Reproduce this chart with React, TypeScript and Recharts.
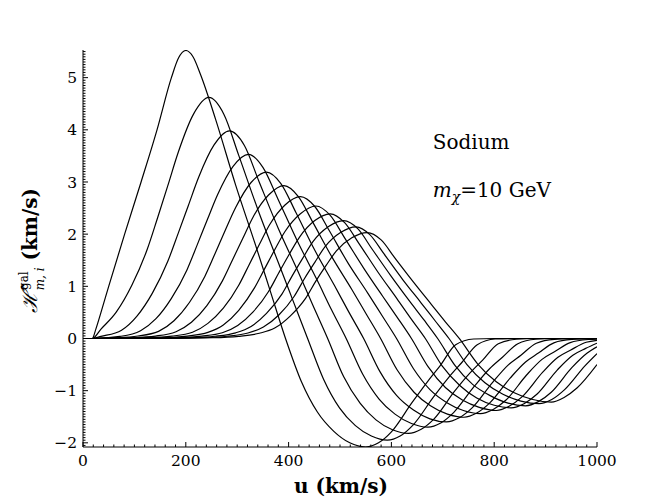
import React from "react";
import { LineChart, Line, XAxis, YAxis } from "recharts";

// Curves: [u (km/s), H (km/s)]
const curve01 = [
  [0, 0], [18, 0], [25, 0.18], [35, 0.5], [50, 1.0], [81, 2.0], [113, 3.0], [144, 4.0], [172, 5.0], [186, 5.38], [200, 5.52],
  [214, 5.4], [229, 5.05], [258, 4.2], [297, 2.94], [336, 1.78], [365, 0.89], [394, 0],
  [425, -0.83], [456, -1.41], [488, -1.78], [519, -2.0], [550, -2.08],
  [575, -2.0], [600, -1.79], [640, -1.23], [670, -0.83], [695, -0.52], [725, -0.12], [760, -0.01], [800, 0], [1000, 0],
];
const curve02 = [
  [0, 0], [18, 0], [35, 0.18], [65, 0.51], [95, 1.02], [125, 1.71], [145, 2.31], [165, 2.93], [185, 3.56], [215, 4.3], [245, 4.62],
  [274, 4.3], [303, 3.51], [341, 2.45], [379, 1.48], [408, 0.74], [437, 0],
  [468, -0.78], [499, -1.33], [530, -1.67], [561, -1.87], [592, -1.95],
  [617, -1.87], [642, -1.66], [682, -1.12], [712, -0.74], [737, -0.46], [767, -0.12], [802, -0.01], [842, 0], [1000, 0],
];
const curve03 = [
  [0, 0], [18, 0], [35, 0.04], [75, 0.16], [105, 0.43], [135, 0.87], [165, 1.48], [185, 2.01], [205, 2.55], [225, 3.09], [255, 3.71], [285, 3.98],
  [314, 3.7], [342, 3.02], [380, 2.11], [419, 1.27], [447, 0.64], [476, 0],
  [507, -0.73], [539, -1.24], [570, -1.56], [602, -1.75], [633, -1.82],
  [658, -1.74], [683, -1.54], [723, -1.01], [753, -0.66], [778, -0.41], [808, -0.1], [843, -0.015], [883, 0], [1000, 0],
];
const curve04 = [
  [0, 0], [18, 0], [72, 0.04], [112, 0.15], [142, 0.38], [172, 0.77], [202, 1.31], [222, 1.79], [242, 2.28], [262, 2.76], [292, 3.3], [322, 3.53],
  [350, 3.28], [379, 2.68], [417, 1.87], [455, 1.13], [483, 0.56], [512, 0],
  [544, -0.68], [576, -1.16], [607, -1.45], [639, -1.63], [671, -1.7],
  [696, -1.62], [721, -1.42], [761, -0.92], [791, -0.58], [816, -0.36], [846, -0.1], [881, -0.015], [921, 0], [1000, 0],
];
const curve05 = [
  [0, 0], [18, 0], [57, 0.013], [107, 0.048], [147, 0.137], [177, 0.34], [207, 0.69], [237, 1.19], [257, 1.63], [277, 2.08], [297, 2.51], [327, 2.99], [357, 3.19],
  [385, 2.97], [414, 2.42], [451, 1.69], [489, 1.02], [517, 0.51], [546, 0],
  [578, -0.64], [610, -1.09], [643, -1.37], [675, -1.54], [707, -1.6],
  [732, -1.52], [757, -1.33], [797, -0.84], [827, -0.51], [852, -0.32], [882, -0.09], [917, -0.016], [957, -0.003], [1000, 0],
];
const curve06 = [
  [0, 0], [18, 0], [91, 0.015], [141, 0.047], [181, 0.13], [211, 0.31], [241, 0.63], [271, 1.1], [291, 1.51], [311, 1.92], [331, 2.33], [361, 2.75], [391, 2.93],
  [419, 2.72], [447, 2.23], [485, 1.55], [523, 0.94], [551, 0.47], [579, 0],
  [611, -0.6], [644, -1.03], [676, -1.29], [709, -1.45], [741, -1.51],
  [766, -1.43], [791, -1.24], [831, -0.76], [861, -0.45], [886, -0.28], [916, -0.083], [951, -0.018], [1000, -0.004],
];
const curve07 = [
  [0, 0], [18, 0], [123, 0.016], [173, 0.046], [213, 0.12], [243, 0.29], [273, 0.58], [303, 1.02], [323, 1.41], [343, 1.8], [363, 2.18], [393, 2.56], [423, 2.72],
  [451, 2.53], [479, 2.07], [516, 1.44], [554, 0.87], [582, 0.435], [610, 0],
  [643, -0.58], [675, -0.98], [708, -1.23], [740, -1.38], [773, -1.44],
  [798, -1.36], [823, -1.18], [863, -0.7], [893, -0.4], [918, -0.25], [948, -0.078], [983, -0.019], [1000, -0.012],
];
const curve08 = [
  [0, 0], [18, 0], [153, 0.015], [203, 0.046], [243, 0.117], [273, 0.26], [303, 0.54], [333, 0.96], [353, 1.33], [373, 1.7], [393, 2.05], [423, 2.39], [453, 2.54],
  [481, 2.36], [509, 1.93], [546, 1.35], [583, 0.81], [611, 0.41], [639, 0],
  [672, -0.55], [705, -0.94], [738, -1.18], [771, -1.32], [804, -1.38],
  [829, -1.3], [854, -1.12], [894, -0.65], [924, -0.36], [949, -0.22], [979, -0.073], [1000, -0.035],
];
const curve09 = [
  [0, 0], [18, 0], [81, 0.002], [181, 0.015], [231, 0.045], [271, 0.11], [301, 0.25], [331, 0.51], [361, 0.9], [381, 1.26], [401, 1.61], [421, 1.94], [451, 2.26], [481, 2.39],
  [509, 2.22], [537, 1.82], [574, 1.27], [611, 0.76], [638, 0.38], [666, 0],
  [699, -0.53], [733, -0.9], [766, -1.14], [800, -1.28], [833, -1.33],
  [858, -1.25], [883, -1.07], [923, -0.6], [953, -0.32], [978, -0.19], [1000, -0.09],
];
const curve10 = [
  [0, 0], [18, 0], [107, 0.002], [207, 0.015], [257, 0.043], [297, 0.108], [327, 0.23], [357, 0.48], [387, 0.85], [407, 1.2], [427, 1.53], [447, 1.85], [477, 2.14], [507, 2.26],
  [535, 2.1], [562, 1.72], [599, 1.2], [635, 0.72], [663, 0.36], [690, 0],
  [724, -0.52], [758, -0.88], [793, -1.1], [827, -1.24], [861, -1.29],
  [886, -1.21], [911, -1.03], [951, -0.56], [981, -0.28], [1000, -0.16],
];
const curve11 = [
  [0, 0], [18, 0], [131, 0.002], [231, 0.015], [281, 0.043], [321, 0.105], [351, 0.22], [381, 0.45], [411, 0.81], [431, 1.15], [451, 1.46], [471, 1.76], [501, 2.03], [531, 2.14],
  [558, 1.99], [585, 1.63], [622, 1.13], [658, 0.68], [685, 0.34], [712, 0],
  [747, -0.5], [782, -0.85], [817, -1.07], [852, -1.2], [887, -1.25],
  [912, -1.17], [937, -0.98], [977, -0.52], [1000, -0.29],
];
const curve12 = [
  [0, 0], [18, 0], [153, 0.002], [253, 0.014], [303, 0.041], [343, 0.1], [373, 0.2], [403, 0.43], [433, 0.77], [453, 1.1], [473, 1.4], [493, 1.68], [523, 1.93], [553, 2.03],
  [580, 1.89], [607, 1.54], [643, 1.08], [678, 0.65], [705, 0.32], [732, 0],
  [768, -0.49], [804, -0.83], [839, -1.04], [875, -1.17], [911, -1.22],
  [936, -1.13], [961, -0.95], [1000, -0.5],
];

const CURVES = [
  curve01, curve02, curve03, curve04, curve05, curve06,
  curve07, curve08, curve09, curve10, curve11, curve12,
].map((pts) => pts.map(([u, h]) => ({ u, h })));

// Axis ranges and tick steps
const X_DOMAIN = [0, 1000];
const Y_DOMAIN = [-2.08, 5.53];
const X_TICKS = Array.from({ length: 51 }, (_, i) => i * 20); // minor every 20, major every 200
const Y_TICKS = Array.from({ length: 152 }, (_, i) => Math.round((i - 41) * 5) / 100); // minor every 0.05

const FONT = "'DejaVu Serif', serif";

const isMajorY = (v: number) => Math.abs(v - Math.round(v)) < 1e-6;
const fmt = (v: number) => (v < 0 ? `\u2212${Math.abs(v)}` : `${v}`);

function BottomTick(props: any) {
  const { x, y, payload } = props;
  const v = payload.value;
  const major = v % 200 === 0;
  return (
    <g>
      <line x1={x} x2={x} y1={y} y2={y - (major ? 5 : 2.5)} stroke="#000" strokeWidth={1} />
      {major && (
        <text x={x} y={y + 18.5} textAnchor="middle" fontFamily={FONT} fontSize={15.5} fill="#000">
          {v}
        </text>
      )}
    </g>
  );
}

function TopTick(props: any) {
  const { x, y, payload } = props;
  const major = payload.value % 200 === 0;
  return <line x1={x} x2={x} y1={y} y2={y + (major ? 5 : 2.5)} stroke="#000" strokeWidth={1} />;
}

function LeftTick(props: any) {
  const { x, y, payload } = props;
  const v = payload.value;
  const major = isMajorY(v);
  return (
    <g>
      <line x1={x} x2={x + (major ? 5 : 2.5)} y1={y} y2={y} stroke="#000" strokeWidth={1} />
      {major && (
        <text x={x - 6} y={y + 5.6} textAnchor="end" fontFamily={FONT} fontSize={15.5} fill="#000">
          {fmt(Math.round(v))}
        </text>
      )}
    </g>
  );
}

function RightTick(props: any) {
  const { x, y, payload } = props;
  const major = isMajorY(payload.value);
  return <line x1={x} x2={x - (major ? 5 : 2.5)} y1={y} y2={y} stroke="#000" strokeWidth={1} />;
}

export default function App() {
  return (
    <div style={{ position: "absolute", left: 0, top: 0, width: 664, height: 498, background: "#fff" }}>
      <LineChart width={664} height={498} margin={{ top: 50, right: 67, bottom: 0, left: 0 }}>
        <XAxis
          dataKey="u"
          type="number"
          domain={X_DOMAIN}
          allowDataOverflow
          ticks={X_TICKS}
          interval={0}
          height={51}
          tickSize={0}
          tickMargin={0}
          tickLine={false}
          tick={BottomTick}
          axisLine={{ stroke: "#000", strokeWidth: 1 }}
        />
        <XAxis
          xAxisId="top"
          orientation="top"
          dataKey="u"
          type="number"
          domain={X_DOMAIN}
          allowDataOverflow
          ticks={X_TICKS}
          interval={0}
          height={0}
          tickSize={0}
          tickMargin={0}
          tickLine={false}
          tick={TopTick}
          axisLine={{ stroke: "#000", strokeWidth: 1 }}
        />
        <YAxis
          type="number"
          domain={Y_DOMAIN}
          allowDataOverflow
          ticks={Y_TICKS}
          interval={0}
          width={83}
          tickSize={0}
          tickMargin={0}
          tickLine={false}
          tick={LeftTick}
          axisLine={{ stroke: "#000", strokeWidth: 1 }}
        />
        <YAxis
          yAxisId="right"
          orientation="right"
          type="number"
          domain={Y_DOMAIN}
          allowDataOverflow
          ticks={Y_TICKS}
          interval={0}
          width={0}
          tickSize={0}
          tickMargin={0}
          tickLine={false}
          tick={RightTick}
          axisLine={{ stroke: "#000", strokeWidth: 1 }}
        />
        {CURVES.map((data, i) => (
          <Line
            key={`curve-${i}`}
            data={data}
            dataKey="h"
            type="monotone"
            stroke="#000"
            strokeWidth={1.2}
            dot={false}
            activeDot={false}
            isAnimationActive={false}
          />
        ))}
      </LineChart>
      <svg
        width={664}
        height={498}
        style={{ position: "absolute", left: 0, top: 0, pointerEvents: "none" }}
      >
        <text x={432.7} y={149.3} fontFamily={FONT} fontSize={20} fill="#000">
          Sodium
        </text>
        <text x={432.7} y={197.3} fontFamily={FONT} fontSize={20} fill="#000">
          <tspan fontStyle="italic">m</tspan>
          <tspan fontStyle="italic" fontSize={14} dy={5}>
            χ
          </tspan>
          <tspan dy={-5}>=10 GeV</tspan>
        </text>
        <text x={341} y={493} textAnchor="middle" fontFamily={FONT} fontSize={20} fontWeight="bold" fill="#000">
          u (km/s)
        </text>
        <text transform="translate(37,313) rotate(-90)" fontFamily={FONT} fontSize={21} fill="#000">
          <tspan fontStyle="italic">{"\u210B\u0302"}</tspan>
          <tspan fontSize={12} dx={1} dy={-9}>
            gal
          </tspan>
          <tspan fontSize={12} fontStyle="italic" dx={-19} dy={16}>
            m, i
          </tspan>
          <tspan fontWeight="bold" fontSize={20} dy={-7}>
            {" "}(km/s)
          </tspan>
        </text>
      </svg>
    </div>
  );
}
